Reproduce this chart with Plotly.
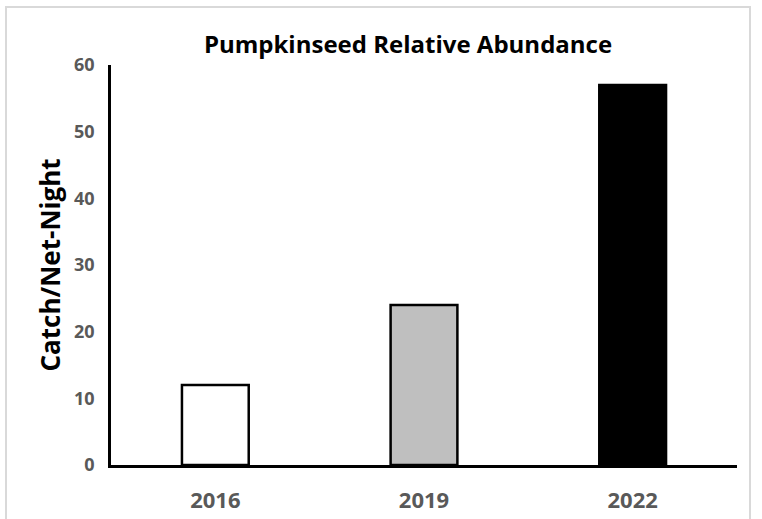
import plotly.graph_objects as go

# Catch per net-night by survey year
years = ["2016", "2019", "2022"]
catch_per_net_night = [12, 24, 57]
bar_colors = ["#ffffff", "#bfbfbf", "#000000"]
y_ticks = [0, 10, 20, 30, 40, 50, 60]

FONT = "Open Sans"

fig = go.Figure(
    go.Bar(
        x=years,
        y=catch_per_net_night,
        marker=dict(color=bar_colors, line=dict(color="#000000", width=2.5)),
        width=0.32,
    )
)

L, R, T, B = 111, 25, 65, 54
W, H = 762, 519
pw, ph = W - L - R, H - T - B


def px_x(p):
    return (p - L) / pw


def px_y(p):
    return (H - B - p) / ph


fig.update_layout(
    width=W,
    height=H,
    margin=dict(l=L, r=R, t=T, b=B, autoexpand=False),
    paper_bgcolor="white",
    plot_bgcolor="white",
    showlegend=False,
    title=dict(
        text="<b>Pumpkinseed Relative Abundance</b>",
        xref="paper",
        x=px_x(408),
        xanchor="center",
        yref="container",
        y=1 - 45 / H,
        yanchor="middle",
        font=dict(family=FONT, size=24, color="#000000"),
    ),
    xaxis=dict(
        automargin=False,
        showline=True,
        linecolor="#000000",
        linewidth=2.5,
        ticks="",
        showgrid=False,
        tickfont=dict(family=FONT, size=22, color="#595959", weight="bold"),
        ticklabelstandoff=14,
    ),
    yaxis=dict(
        automargin=False,
        range=[0, 60],
        tickvals=y_ticks,
        showline=True,
        linecolor="#000000",
        linewidth=2.5,
        ticks="",
        showgrid=False,
        zeroline=False,
        tickfont=dict(family=FONT, size=18, color="#595959", weight="bold"),
        ticklabelstandoff=10,
        title=dict(
            text="<b>Catch/Net-Night</b>",
            font=dict(family=FONT, size=26, color="#000000"),
            standoff=6,
        ),
    ),
    shapes=[
        dict(
            type="rect",
            xref="paper",
            yref="paper",
            x0=px_x(6),
            x1=px_x(750),
            y0=px_y(530),
            y1=px_y(7),
            line=dict(color="#d9d9d9", width=2),
            fillcolor="rgba(0,0,0,0)",
            layer="below",
        )
    ],
)

fig.write_html("out.html")
